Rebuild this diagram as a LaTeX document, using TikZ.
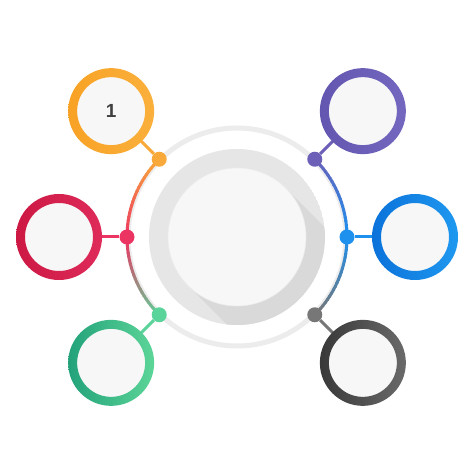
\documentclass[tikz,border=0pt]{standalone}
\usepackage{fontspec}
\setmainfont{Liberation Sans}
\usetikzlibrary{calc}
\definecolor{ringgray}{HTML}{ECECEC}
\definecolor{diskgray}{HTML}{E6E6E6}
\definecolor{shadowgray}{HTML}{D9D9D9}
\definecolor{centerwhite}{HTML}{F7F7F7}
\definecolor{innerwhite}{HTML}{F7F7F7}
\definecolor{numgray}{HTML}{404040}
% arc colours
\definecolor{aOr}{HTML}{F9A83A}
\definecolor{aRd}{HTML}{EC3463}
\definecolor{aGr}{HTML}{5AD49A}
\definecolor{aPu}{HTML}{6B5FB8}
\definecolor{aBl}{HTML}{1E90EE}
\definecolor{aGy}{HTML}{777777}
% ring colours
\definecolor{rOrA}{HTML}{F8A225}\definecolor{rOrB}{HTML}{FAB03C}
\definecolor{rPuA}{HTML}{6256B0}\definecolor{rPuB}{HTML}{7367BF}
\definecolor{rRdA}{HTML}{CC1843}\definecolor{rRdB}{HTML}{DF2B5A}
\definecolor{rBlA}{HTML}{0B72DA}\definecolor{rBlB}{HTML}{1F98EF}
\definecolor{rGrA}{HTML}{23A27A}\definecolor{rGrB}{HTML}{5CD598}
\definecolor{rGyA}{HTML}{383838}\definecolor{rGyB}{HTML}{6A6A6A}
\tikzset{
  ringnode/.style={circle, minimum size=68pt, inner sep=0pt, fill=innerwhite,
    font=\fontsize{19}{19}\selectfont\bfseries, text=numgray},
  dotnode/.style={circle, minimum size=15pt, inner sep=0pt, fill=#1},
  link/.style={line width=3pt, draw=#1},
  arcseg/.style={line width=3pt, draw=#1},
}
\begin{document}
\begin{tikzpicture}[x=1pt,y=1pt]
\useasboundingbox (0,0) rectangle (474,474);
\fill[white] (0,0) rectangle (474,474);
\coordinate (c) at (237,237);

% thin light ring
\draw[line width=5pt, draw=ringgray] (c) circle[radius=109];

% gradient arcs, left side
\foreach \a in {135,137,...,179} {
  \pgfmathtruncatemacro\p{(\a-135)/45*100}
  \draw[arcseg=aRd!\p!aOr] ($(c)+(\a:110)$) arc[start angle=\a, delta angle=2.6, radius=110];
}
\foreach \a in {180,182,...,224} {
  \pgfmathtruncatemacro\p{(\a-180)/45*100}
  \draw[arcseg=aGr!\p!aRd] ($(c)+(\a:110)$) arc[start angle=\a, delta angle=2.6, radius=110];
}
% right side
\foreach \a in {-45,-43,...,-1} {
  \pgfmathtruncatemacro\p{(\a+45)/45*100}
  \draw[arcseg=aBl!\p!aGy] ($(c)+(\a:110)$) arc[start angle=\a, delta angle=2.6, radius=110];
}
\foreach \a in {0,2,...,44} {
  \pgfmathtruncatemacro\p{\a/45*100}
  \draw[arcseg=aPu!\p!aBl] ($(c)+(\a:110)$) arc[start angle=\a, delta angle=2.6, radius=110];
}

% central disk with long shadow
\begin{scope}
  \clip (c) circle[radius=88];
  \fill[diskgray] (c) circle[radius=88];
  \fill[shadowgray] ($(c)+(45:69)$) -- ++(-45:160) -- ($(c)+(225:69)+(-45:160)$) -- ($(c)+(225:69)$) -- cycle;
\end{scope}
\fill[centerwhite] (c) circle[radius=69];
\draw[line width=0.6pt, draw=ringgray] (c) circle[radius=69];

% outer ring nodes
\node[ringnode] (o1) at ($(c)+(135:178)$) {1};
\node[ringnode] (o2) at ($(c)+(45:178)$) {};
\node[ringnode] (o3) at ($(c)+(180:178)$) {};
\node[ringnode] (o4) at ($(c)+(0:178)$) {};
\node[ringnode] (o5) at ($(c)+(225:178)$) {};
\node[ringnode] (o6) at ($(c)+(315:178)$) {};

% dots on the arc
\node[dotnode=aOr] (d1) at ($(c)+(135:110)$) {};
\node[dotnode=aPu] (d2) at ($(c)+(45:110)$) {};
\node[dotnode=aRd] (d3) at ($(c)+(180:110)$) {};
\node[dotnode=aBl] (d4) at ($(c)+(0:110)$) {};
\node[dotnode=aGr] (d5) at ($(c)+(225:110)$) {};
\node[dotnode=aGy] (d6) at ($(c)+(315:110)$) {};

% connectors
\draw[link=aOr] (o1) -- (d1);
\draw[link=aPu] (o2) -- (d2);
\draw[link=aRd] (o3) -- (d3);
\draw[link=aBl] (o4) -- (d4);
\draw[link=aGr] (o5) -- (d5);
\draw[link=aGy] (o6) -- (d6);

% coloured rings
\shade[even odd rule, left color=rOrA, right color=rOrB] (o1.center) circle[radius=43] (o1.center) circle[radius=34];
\shade[even odd rule, left color=rPuA, right color=rPuB] (o2.center) circle[radius=43] (o2.center) circle[radius=34];
\shade[even odd rule, left color=rRdA, right color=rRdB] (o3.center) circle[radius=43] (o3.center) circle[radius=34];
\shade[even odd rule, left color=rBlA, right color=rBlB] (o4.center) circle[radius=43] (o4.center) circle[radius=34];
\shade[even odd rule, left color=rGrA, right color=rGrB] (o5.center) circle[radius=43] (o5.center) circle[radius=34];
\shade[even odd rule, left color=rGyA, right color=rGyB] (o6.center) circle[radius=43] (o6.center) circle[radius=34];
\end{tikzpicture}
\end{document}
